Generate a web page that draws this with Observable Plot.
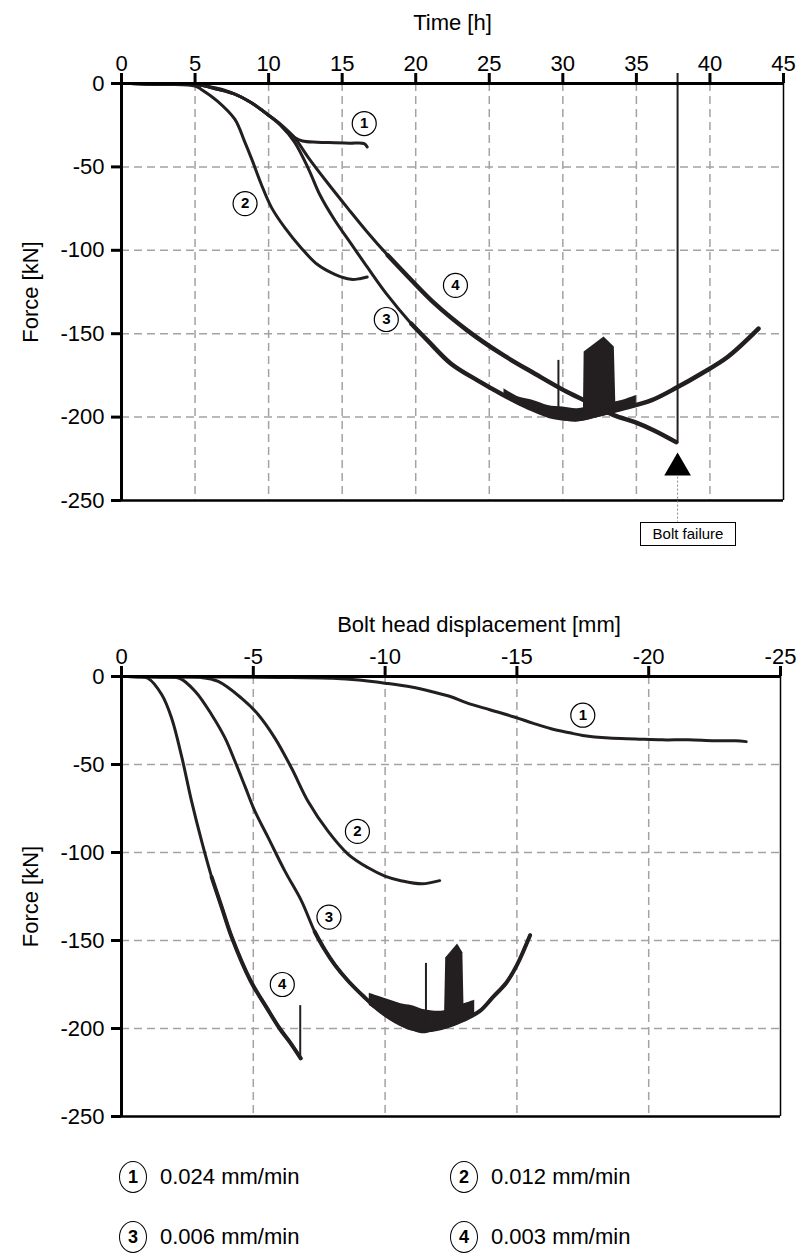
<!DOCTYPE html>
<html><head><meta charset="utf-8">
<script src="https://cdn.jsdelivr.net/npm/d3@7"></script>
<script src="https://cdn.jsdelivr.net/npm/@observablehq/plot@0.6"></script>
<style>
html,body{margin:0;padding:0;background:#fff;}
#page{position:relative;width:806px;height:1254px;overflow:hidden;font-family:"Liberation Sans",Arial,sans-serif;color:#000;}
#c1{position:absolute;left:0;top:0;}
#c2{position:absolute;left:0;top:560px;}
.box{position:absolute;border:1px solid #000;font-size:15px;line-height:22px;text-align:center;background:#fff;box-sizing:border-box;}
.lc{position:absolute;border:1.3px solid #000;border-radius:50%;box-sizing:border-box;font-weight:bold;font-size:18px;display:flex;align-items:center;justify-content:center;}
.lt{position:absolute;font-size:22px;line-height:26px;white-space:nowrap;}
</style></head>
<body><div id="page"><div id="c1"></div><div id="c2"></div></div>
<script>
// ---------- axes / ticks ----------
const timeTicks = [0,5,10,15,20,25,30,35,40,45];
const timeGrid = [5,10,15,20,25,30,35,40];
const forceTicks = [0,-50,-100,-150,-200,-250];
const forceGrid = [-50,-100,-150,-200];
const dispTicks = [0,-5,-10,-15,-20,-25];
const dispGrid = [-5,-10,-15,-20];

// ---------- top chart: force vs time ----------
const t1Time  = [0.6, 2, 3.5, 5, 6, 7, 8, 9, 10, 10.8, 11.3, 11.8, 12.3, 13.3, 14.5, 15.5, 16.5, 16.7];
const t1Force = [0, -0.5, 0, -0.5, -2, -4, -7.5, -12.5, -19, -24.5, -29, -32.5, -34.5, -35.2, -35.5, -35.8, -36, -38];
const t2Time  = [0.6, 3, 5, 5.4, 6.5, 7.7, 8.35, 8.9, 9.5, 10.2, 11.1, 12.2, 13.3, 14.5, 15.6, 16.2, 16.7];
const t2Force = [0, -0.5, -1.5, -3.4, -10.4, -21.4, -34.4, -46.4, -60.4, -74.4, -86.4, -98.4, -108.4, -114.4, -117.4, -117, -116];
const t3Time  = [0.6, 3, 5, 6.5, 7.7, 8.8, 9.9, 10.8, 11.75, 12.7, 13.5, 14.5, 15.6, 16.7, 18.0, 19.7, 20.8, 22.4, 24.2, 25.8, 27.6, 29.4, 31.2, 32.6, 34.0, 36.0, 37.8, 39.4, 41.2, 43.3];
const t3Force = [0, -0.5, -0.5, -3.4, -6.4, -11.4, -18.4, -25, -35, -51, -67, -82, -96, -110, -126, -144, -154, -168, -178, -186, -194, -200, -201, -198, -195, -190, -182, -174, -164, -147];
const t4Time  = [0.6, 3, 5, 6.5, 7.7, 8.8, 9.9, 10.8, 11.75, 12.7, 14.0, 15.4, 16.7, 18.1, 19.5, 21.3, 23.5, 25.8, 28.1, 30.3, 32.2, 33.5, 34.9, 36.2, 37.7];
const t4Force = [0, -0.5, -0.5, -3.4, -6.4, -11.4, -18.4, -24.4, -32.4, -44.4, -59.5, -75, -89, -103, -116, -132, -148, -162, -174, -185, -193, -199, -203, -208, -215];
// noise band on curve 3 around the minimum
const t3NoiseTime = [26, 27, 28, 29, 30, 31, 32, 33, 34, 35];
const t3NoiseLow  = [-188, -193, -196, -200, -202, -203, -201, -199, -196, -193];
const t3NoiseHigh = [-183, -188, -190, -193, -194, -195, -193, -192, -190, -187];
// spikes
const tSpikeTime = [29.7];
const tSpikeLow  = [-199];
const tSpikeHigh = [-166];
const tBlockTime = [31.4, 31.45, 32.8, 33.5, 33.6];
const tBlockLow  = [-199, -199, -199, -198, -197];
const tBlockHigh = [-197, -161, -152, -158, -192];
// bolt failure
const failTime = [37.8];
const failForce = [-216];

// ---------- bottom chart: force vs displacement ----------
const b1Disp  = [-0.2, -2, -4, -6, -8, -9, -10, -11, -11.75, -12.5, -13.1, -14, -14.9, -15.6, -16.3, -17, -17.5, -18.5, -19.5, -20.5, -21.5, -22.5, -23.3, -23.7];
const b1Force = [0, -0.3, -0.3, -0.5, -1, -2, -3.8, -6, -8.5, -11.5, -15, -19, -23, -26.5, -29.7, -32, -33.5, -35, -35.5, -36, -36, -36.5, -36.5, -37];
const b2Disp  = [-0.2, -1.5, -3, -3.67, -4.55, -5.19, -5.82, -6.45, -7.08, -7.84, -8.6, -9.36, -9.99, -10.6, -11.4, -12.07];
const b2Force = [0, -0.3, -0.5, -2.8, -12.3, -21.7, -35, -52, -71, -88, -101, -108.7, -113.4, -116, -117.8, -116];
const b3Disp  = [-0.2, -1.5, -2.2, -2.8, -3.42, -3.93, -4.3, -4.7, -5.06, -5.57, -6.2, -6.83, -7.33, -7.7, -8.1, -8.6, -9.2, -9.8, -10.4, -11.0, -11.6, -12.3, -13.0, -13.6, -14.1, -14.6, -15.0, -15.5];
const b3Force = [0, -0.3, -1, -8.5, -21.7, -35, -48, -63, -76.5, -91.7, -110.6, -127.6, -145, -155, -164, -173, -182, -190, -196, -200, -201, -199, -195, -190, -182, -174, -164, -147];
const b4Disp  = [-0.2, -0.6, -1.0, -1.53, -1.9, -2.29, -2.66, -3.04, -3.42, -3.8, -4.18, -4.9, -5.5, -6.0, -6.4, -6.8];
const b4Force = [0, -0.3, -1, -10.4, -23.6, -46, -71, -93.6, -114, -131, -148, -173, -188, -200, -208, -217];
const b4ReturnDisp = [-6.78];
const b4ReturnLow  = [-217];
const b4ReturnHigh = [-187];
const b3NoiseDisp = [-9.4, -9.8, -10.2, -10.6, -11.0, -11.4, -11.8, -12.2, -12.6, -13.0, -13.4];
const b3NoiseLow  = [-187, -191, -195, -198, -201, -203, -202, -200, -198, -196, -193];
const b3NoiseHigh = [-180, -182, -184, -186, -187, -189, -190, -190, -188, -186, -184];
const bSpikeDisp = [-11.55];
const bSpikeLow  = [-200];
const bSpikeHigh = [-163];
const bBlockDisp = [-12.25, -12.3, -12.75, -12.95, -13.0];
const bBlockLow  = [-199, -199, -198, -196, -195];
const bBlockHigh = [-197, -160, -152, -157, -193];

// ---------- circled labels ----------
const labelIds = ["1", "2", "3", "4"];
const topLabelTime  = [16.5, 8.4, 18.0, 22.7];
const topLabelForce = [-24, -72, -141.5, -121];
const botLabelDisp  = [-17.5, -8.95, -7.87, -6.1];
const botLabelForce = [-22, -88, -136.7, -175];
const legendRates = ["0.024 mm/min", "0.012 mm/min", "0.006 mm/min", "0.003 mm/min"];

// ---------- helpers ----------
const INK = "#231f20";
const GRID = "#a3a3a3";
const FONT = '"Liberation Sans", Arial, sans-serif';
const rows = (id, xs, ys) => xs.map((x, i) => ({id, x, y: ys[i]}));
const bands = (xs, lo, hi) => xs.map((x, i) => ({x, lo: lo[i], hi: hi[i]}));
const labels = (xs, ys) => labelIds.map((id, i) => ({id, x: xs[i], y: ys[i]}));
const fmt = d => String(d);

function frameMarks(xGrid, yGrid, xEnd) {
  return [
    Plot.ruleX(xGrid, {stroke: GRID, strokeWidth: 1.5, strokeDasharray: "8,5"}),
    Plot.ruleY(yGrid, {stroke: GRID, strokeWidth: 1.5, strokeDasharray: "8,5"}),
    Plot.ruleX([xEnd], {stroke: "#000", strokeWidth: 1.5}),
    Plot.ruleY([-250], {stroke: "#000", strokeWidth: 2.5}),
  ];
}
// tickX: length of a 10px tick in y units; tickY: length of a 10px tick in x units (towards the left)
function axisMarks(xTicks, tickLenY, tickLenX) {
  return [
    Plot.ruleX(xTicks, {x: d => d, y1: 0, y2: tickLenY, stroke: "#000", strokeWidth: 3}),
    Plot.ruleY(forceTicks, {y: d => d, x1: 0, x2: tickLenX, stroke: "#000", strokeWidth: 3}),
    Plot.axisX({anchor: "top", ticks: xTicks, tickSize: 0, tickPadding: 13, tickFormat: fmt, label: null, fontSize: 22}),
    Plot.axisY({anchor: "left", ticks: forceTicks, tickSize: 0, tickPadding: 17, tickFormat: fmt, label: null, fontSize: 22}),
    Plot.ruleY([0], {stroke: "#000", strokeWidth: 3}),
    Plot.ruleX([0], {stroke: "#000", strokeWidth: 3}),
  ];
}
function labelMarks(data) {
  return [
    Plot.dot(data, {x: "x", y: "y", r: 12, fill: "white", stroke: "#000", strokeWidth: 1.2}),
    Plot.text(data, {x: "x", y: "y", text: "id", fontSize: 15, fontWeight: "bold", fill: "#000"}),
  ];
}

// ---------- top chart ----------
const topLines = [
  ...rows("1", t1Time, t1Force), ...rows("2", t2Time, t2Force),
  ...rows("3", t3Time, t3Force), ...rows("4", t4Time, t4Force)
];
const chart1 = Plot.plot({
  width: 806, height: 560,
  marginLeft: 121, marginRight: 23, marginTop: 83, marginBottom: 60,
  style: {fontSize: "22px", fontFamily: FONT, background: "white", color: "#000", overflow: "visible"},
  x: {domain: [0, 45], axis: null},
  y: {domain: [-250, 0], axis: null},
  marks: [
    ...frameMarks(timeGrid, forceGrid, 45),
    Plot.areaY(bands(t3NoiseTime, t3NoiseLow, t3NoiseHigh), {x: "x", y1: "lo", y2: "hi", fill: INK, curve: "catmull-rom"}),
    Plot.areaY(bands(tBlockTime, tBlockLow, tBlockHigh), {x: "x", y1: "lo", y2: "hi", fill: INK}),
    Plot.ruleX(bands(tSpikeTime, tSpikeLow, tSpikeHigh), {x: "x", y1: "lo", y2: "hi", stroke: INK, strokeWidth: 2}),
    Plot.line(topLines, {x: "x", y: "y", z: "id", stroke: INK, strokeWidth: 3, curve: "catmull-rom", strokeLinejoin: "round"}),
    Plot.line(topLines.filter(d => (d.id === "3" || d.id === "4") && d.x > 18), {x: "x", y: "y", z: "id", stroke: INK, strokeWidth: 4.5, curve: "catmull-rom"}),
    // bolt failure line, marker and leader
    Plot.ruleX(bands(failTime, failForce, [6]), {x: "x", y1: "lo", y2: "hi", stroke: INK, strokeWidth: 2}),
    Plot.dot(failTime, {x: d => d, y: -230.4, symbol: "triangle", r: 9.9, fill: "#000", stroke: null}),
    Plot.ruleX(failTime, {x: d => d, y1: -236, y2: -263, stroke: "#888", strokeWidth: 1, strokeDasharray: "2,2"}),
    ...axisMarks(timeTicks, 6, -0.68),
    Plot.text(["Time [h]"], {frameAnchor: "top", dy: -61, lineAnchor: "middle", textAnchor: "middle", fontSize: 22}),
    Plot.text(["Force [kN]"], {frameAnchor: "left", dx: -91, rotate: -90, textAnchor: "middle", lineAnchor: "middle", fontSize: 22}),
    ...labelMarks(labels(topLabelTime, topLabelForce)),
  ]
});
document.getElementById("c1").appendChild(chart1);

// ---------- bottom chart ----------
const botLines = [
  ...rows("1", b1Disp, b1Force), ...rows("2", b2Disp, b2Force),
  ...rows("3", b3Disp, b3Force), ...rows("4", b4Disp, b4Force)
];
const chart2 = Plot.plot({
  width: 806, height: 580,
  marginLeft: 121, marginRight: 26, marginTop: 116, marginBottom: 24,
  style: {fontSize: "22px", fontFamily: FONT, background: "white", color: "#000", overflow: "visible"},
  x: {domain: [0, -25], axis: null},
  y: {domain: [-250, 0], axis: null},
  marks: [
    ...frameMarks(dispGrid, forceGrid, -25),
    Plot.areaY(bands(b3NoiseDisp, b3NoiseLow, b3NoiseHigh), {x: "x", y1: "lo", y2: "hi", fill: INK, curve: "catmull-rom"}),
    Plot.areaY(bands(bBlockDisp, bBlockLow, bBlockHigh), {x: "x", y1: "lo", y2: "hi", fill: INK}),
    Plot.ruleX(bands(bSpikeDisp, bSpikeLow, bSpikeHigh), {x: "x", y1: "lo", y2: "hi", stroke: INK, strokeWidth: 2}),
    Plot.line(botLines, {x: "x", y: "y", z: "id", stroke: INK, strokeWidth: 3, curve: "catmull-rom", strokeLinejoin: "round"}),
    Plot.line(botLines.filter(d => (d.id === "3" && d.x < -7) || (d.id === "4" && d.y < -100)), {x: "x", y: "y", z: "id", stroke: INK, strokeWidth: 4, curve: "catmull-rom"}),
    Plot.ruleX(bands(b4ReturnDisp, b4ReturnLow, b4ReturnHigh), {x: "x", y1: "lo", y2: "hi", stroke: INK, strokeWidth: 2}),
    ...axisMarks(dispTicks, 5.7, 0.38),
    Plot.text(["Bolt head displacement [mm]"], {frameAnchor: "top", dy: -52, dx: 28, lineAnchor: "middle", textAnchor: "middle", fontSize: 22}),
    Plot.text(["Force [kN]"], {frameAnchor: "left", dx: -91, rotate: -90, textAnchor: "middle", lineAnchor: "middle", fontSize: 22}),
    ...labelMarks(labels(botLabelDisp, botLabelForce)),
  ]
});
document.getElementById("c2").appendChild(chart2);

// ---------- annotation box and legend ----------
const page = document.getElementById("page");
const box = document.createElement("div");
box.className = "box";
box.textContent = "Bolt failure";
Object.assign(box.style, {left: "640px", top: "522px", width: "96px", height: "24px"});
page.appendChild(box);

const legCols = [133, 464], legRows = [1177, 1237];
labelIds.forEach((id, i) => {
  const cx = legCols[i % 2], cy = legRows[Math.floor(i / 2)];
  const c = document.createElement("div");
  c.className = "lc";
  c.textContent = id;
  Object.assign(c.style, {left: (cx - 14) + "px", top: (cy - 16) + "px", width: "28px", height: "32px"});
  page.appendChild(c);
  const t = document.createElement("div");
  t.className = "lt";
  t.textContent = legendRates[i];
  Object.assign(t.style, {left: (cx + 27) + "px", top: (cy - 13) + "px"});
  page.appendChild(t);
});
</script>
</body></html>
